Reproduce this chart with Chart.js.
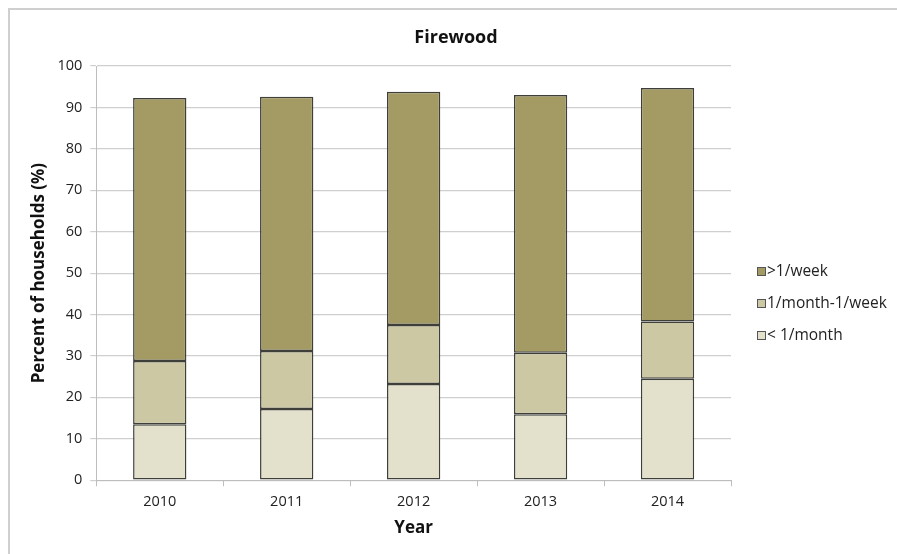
<!DOCTYPE html>
<html>
<head>
<meta charset="utf-8">
<script src="https://cdn.jsdelivr.net/npm/chart.js@4/dist/chart.umd.min.js"></script>
<style>
  html, body { margin: 0; padding: 0; background: #fff; }
  #wrap { width: 897px; height: 554px; position: relative; }
</style>
</head>
<body>
<div id="wrap"><canvas id="firewood" width="897" height="554"></canvas></div>
<script>
// Firewood use frequency by year, stacked
const years = ['2010', '2011', '2012', '2013', '2014'];
const lessMonthly = [13.5, 17.2, 23.2, 15.9, 24.5];
const monthlyToWeekly = [15.3, 14.0, 14.3, 14.9, 13.8];
const moreWeekly = [63.5, 61.4, 56.3, 62.2, 56.4];
const yTicks = [0, 10, 20, 30, 40, 50, 60, 70, 80, 90, 100];

const FONT = '"Open Sans", "Liberation Sans", sans-serif';

// outer frame, centred title and legend drawn by hand so they sit where we want them
const framePlugin = {
    id: 'framePlugin',
    beforeDraw(chart) {
        const ctx = chart.ctx;
        ctx.save();
        ctx.fillStyle = '#ffffff';
        ctx.fillRect(0, 0, chart.width, chart.height);
        ctx.strokeStyle = '#cfcfcf';
        ctx.lineWidth = 2;
        ctx.beginPath();
        ctx.moveTo(9, chart.height + 2);
        ctx.lineTo(9, 9);
        ctx.lineTo(chart.width + 2, 9);
        ctx.stroke();
        ctx.restore();
    },
    afterDraw(chart) {
        const ctx = chart.ctx;
        ctx.save();
        ctx.font = 'bold 18px ' + FONT;
        ctx.fillStyle = '#111';
        ctx.textAlign = 'center';
        ctx.textBaseline = 'middle';
        ctx.fillText('Firewood', 456, 38);

        const sets = chart.data.datasets.slice().reverse();
        const rows = [272, 304, 336];
        ctx.font = '15.5px ' + FONT;
        ctx.textAlign = 'left';
        sets.forEach((ds, i) => {
            const y = rows[i];
            ctx.fillStyle = ds.backgroundColor;
            ctx.fillRect(757, y - 5, 9, 9);
            ctx.strokeStyle = '#555';
            ctx.lineWidth = 1;
            ctx.strokeRect(757.5, y - 4.5, 8, 8);
            ctx.fillStyle = '#222';
            ctx.fillText(ds.label, 767, y);
        });
        ctx.restore();
    }
};

new Chart(document.getElementById('firewood'), {
    type: 'bar',
    data: {
        labels: years,
        datasets: [
            { label: '< 1/month', data: lessMonthly, backgroundColor: '#e3e0cc' },
            { label: '1/month-1/week', data: monthlyToWeekly, backgroundColor: '#cdc8a4' },
            { label: '>1/week', data: moreWeekly, backgroundColor: '#a39a64' }
        ].map(d => Object.assign(d, {
            borderColor: '#3f3f3a',
            borderWidth: 1.5,
            borderSkipped: false,
            categoryPercentage: 1,
            barPercentage: 0.42
        }))
    },
    options: {
        responsive: false,
        animation: false,
        layout: { padding: { left: 29, right: 166, top: 66, bottom: 12 } },
        plugins: {
            legend: { display: false },
            tooltip: { enabled: false },
            title: { display: false }
        },
        scales: {
            x: {
                stacked: true,
                grid: {
                    offset: true,
                    drawOnChartArea: false,
                    drawTicks: true,
                    tickLength: 6,
                    color: '#bdbdbd'
                },
                border: { color: '#bdbdbd', width: 1 },
                ticks: { color: '#222', font: { family: FONT, size: 14.5 }, padding: 7 },
                title: {
                    display: true,
                    text: 'Year',
                    color: '#111',
                    font: { family: FONT, size: 17, weight: 'bold' },
                    padding: { top: 0 }
                }
            },
            y: {
                stacked: true,
                min: 0,
                max: 100,
                afterBuildTicks(axis) { axis.ticks = yTicks.map(v => ({ value: v })); },
                grid: { color: '#cfcfcf', lineWidth: 1.2, tickLength: 6 },
                border: { color: '#bdbdbd', width: 1 },
                ticks: { color: '#222', font: { family: FONT, size: 14.5 }, padding: 8 },
                title: {
                    display: true,
                    text: 'Percent of households (%)',
                    color: '#111',
                    font: { family: FONT, size: 17, weight: 'bold' },
                    padding: { top: 0, bottom: 0 }
                }
            }
        }
    },
    plugins: [framePlugin]
});
</script>
</body>
</html>
